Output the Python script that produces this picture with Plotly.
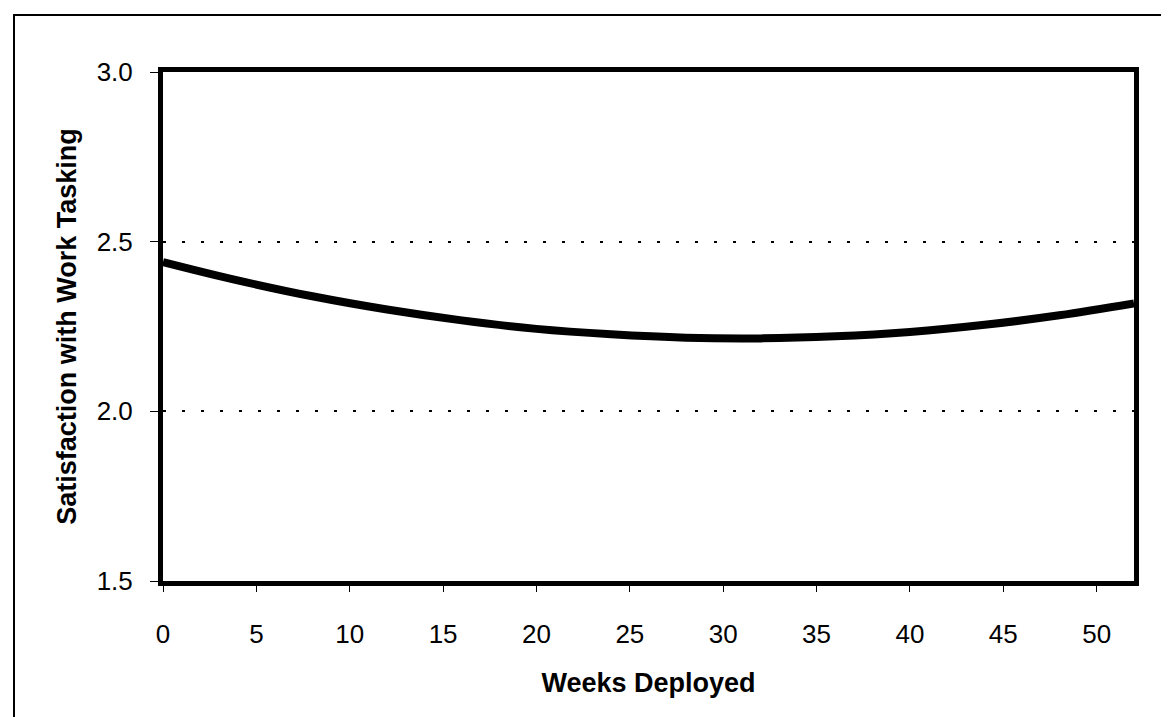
import plotly.graph_objects as go

weeks = [0, 4, 8, 12, 16, 20, 24, 28, 32, 36, 40, 44, 48, 52]
satisfaction = [2.440, 2.386, 2.339, 2.300, 2.268, 2.243, 2.227, 2.217, 2.215, 2.221, 2.234, 2.255, 2.283, 2.318]
x_ticks = [0, 5, 10, 15, 20, 25, 30, 35, 40, 45, 50]
y_ticks = [1.5, 2.0, 2.5, 3.0]
y_tick_labels = ["1.5", "2.0", "2.5", "3.0"]

W, H = 1169, 717
L, R, T, B = 155, 43, 64, 144

fig = go.Figure()
fig.add_trace(go.Scatter(
    x=weeks, y=satisfaction, mode="lines",
    line=dict(color="black", width=8, shape="spline", smoothing=1.0),
    hoverinfo="skip", showlegend=False,
))

font_family = "Liberation Sans, Arial, sans-serif"

fig.update_layout(
    width=W, height=H,
    margin=dict(l=L, r=R, t=T, b=B, autoexpand=False),
    paper_bgcolor="white", plot_bgcolor="white",
    font=dict(family=font_family, color="black", size=26),
    xaxis=dict(
        range=[0, 52], tickvals=x_ticks, ticktext=[str(v) for v in x_ticks],
        showgrid=False, zeroline=False,
        showline=True, linecolor="black", linewidth=5, mirror=True,
        ticks="outside", ticklen=6, tickwidth=1, tickcolor="black",
        tickfont=dict(size=26, family=font_family),
        ticklabelstandoff=20,
        title=dict(text="<b>Weeks Deployed</b>", font=dict(size=27, family=font_family), standoff=26),
        automargin=False,
    ),
    yaxis=dict(
        range=[1.5, 3.0], tickvals=y_ticks, ticktext=y_tick_labels,
        showgrid=True, gridcolor="black", gridwidth=1.5, griddash="3px,16px",
        zeroline=False,
        showline=True, linecolor="black", linewidth=5, mirror=True,
        ticks="outside", ticklen=8, tickwidth=1, tickcolor="black",
        tickfont=dict(size=26, family=font_family),
        ticklabelstandoff=12,
        title=dict(text="<b>Satisfaction with Work Tasking</b>", font=dict(size=27, family=font_family), standoff=14),
        automargin=False,
    ),
    shapes=[
        dict(type="rect", xref="paper", yref="paper",
             x0=(6 - L) / (W - L - R), x1=1.5,
             y0=-1.0, y1=(H - B - 7) / (H - T - B),
             line=dict(color="black", width=2), fillcolor="rgba(0,0,0,0)", layer="above"),
    ],
)

fig.write_html("out.html")
